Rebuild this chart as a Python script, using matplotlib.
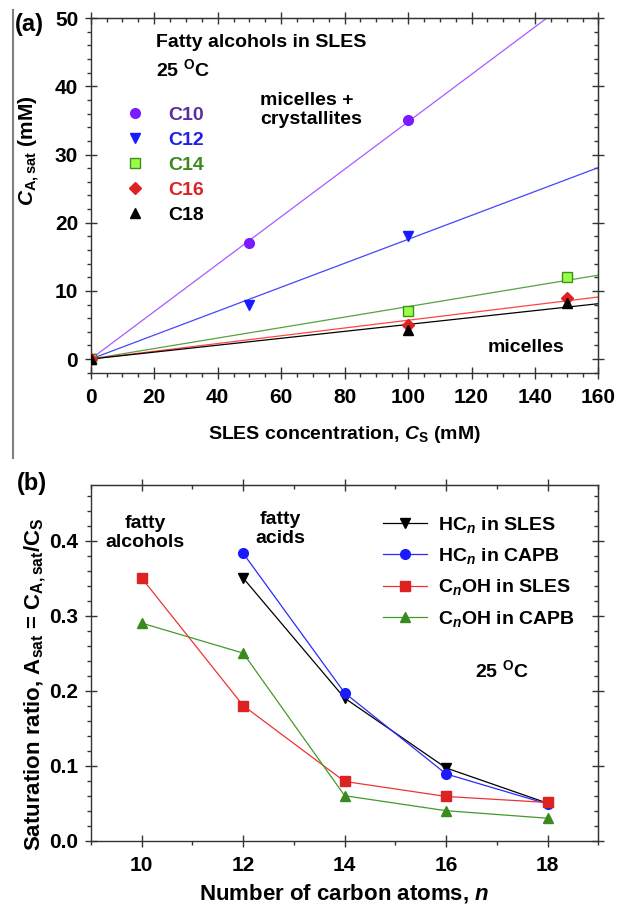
import numpy as np
import matplotlib
matplotlib.use('Agg')
import matplotlib.pyplot as plt
from matplotlib.ticker import MultipleLocator
from matplotlib.lines import Line2D

plt.rcParams['font.family'] = ['Liberation Sans', 'DejaVu Sans']
plt.rcParams['font.weight'] = 'bold'
plt.rcParams['axes.labelweight'] = 'bold'
plt.rcParams['mathtext.fontset'] = 'custom'
plt.rcParams['mathtext.rm'] = 'Liberation Sans:bold'
plt.rcParams['mathtext.it'] = 'Liberation Sans:bold:italic'
plt.rcParams['mathtext.bf'] = 'Liberation Sans:bold'

# (a) fatty alcohols in SLES, C_A,sat vs SLES concentration
c10_x = [0, 50, 100]
c10_y = [0, 17, 35]
c12_x = [0, 50, 100]
c12_y = [0, 7.9, 18]
c14_x = [0, 100, 150]
c14_y = [0, 7, 12]
c16_x = [0, 100, 150]
c16_y = [0, 5, 9]
c18_x = [0, 100, 150]
c18_y = [0, 4.2, 8.2]

# (b) saturation ratio vs number of carbon atoms
n_acid = [12, 14, 16, 18]
hc_sles = [0.35, 0.19, 0.097, 0.05]
hc_capb = [0.383, 0.197, 0.089, 0.049]
n_alc = [10, 12, 14, 16, 18]
oh_sles = [0.35, 0.18, 0.079, 0.059, 0.051]
oh_capb = [0.29, 0.25, 0.06, 0.04, 0.03]

FS = 14
TICK_FS = 15
SPINE = '#333333'


def style_axes(ax, xmaj, xmin, ymaj, ymin):
    for s in ax.spines.values():
        s.set_color(SPINE)
        s.set_linewidth(1.0)
    ax.xaxis.set_major_locator(MultipleLocator(xmaj))
    ax.xaxis.set_minor_locator(MultipleLocator(xmin))
    ax.yaxis.set_major_locator(MultipleLocator(ymaj))
    ax.yaxis.set_minor_locator(MultipleLocator(ymin))
    ax.tick_params(which='major', direction='inout', length=8, width=1,
                   color=SPINE, labelsize=TICK_FS, pad=5)
    ax.tick_params(axis='x', which='major', pad=7)
    ax.tick_params(which='minor', direction='out', length=3, width=1,
                   color=SPINE)
    # mirrored ticks on top and right, pointing inward
    top = ax.secondary_xaxis('top')
    right = ax.secondary_yaxis('right')
    top.xaxis.set_major_locator(MultipleLocator(xmaj))
    top.xaxis.set_minor_locator(MultipleLocator(xmin))
    right.yaxis.set_major_locator(MultipleLocator(ymaj))
    right.yaxis.set_minor_locator(MultipleLocator(ymin))
    for sec in (top, right):
        for s in sec.spines.values():
            s.set_color(SPINE)
        sec.tick_params(which='major', direction='inout', length=8, width=1,
                        color=SPINE)
        sec.tick_params(which='minor', direction='in', length=3, width=1,
                        color=SPINE)
    top.tick_params(labeltop=False)
    right.tick_params(labelright=False)


fig = plt.figure(figsize=(6.17, 9.09), dpi=100)

# ---------------- panel (a) ----------------
ax1 = fig.add_axes([0.147, 0.590, 0.823, 0.390])
series_a = [
    (c10_x, c10_y, 'o', '#7a1cff', '#7a1cff', '#a55cff', '#5b2d9e', 'C10'),
    (c12_x, c12_y, 'v', '#1a1aff', '#1a1aff', '#4545ff', '#2020e6', 'C12'),
    (c14_x, c14_y, 's', '#99ff44', '#3f8f1f', '#5aa040', '#3a8a20', 'C14'),
    (c16_x, c16_y, 'D', '#dd2222', '#dd2222', '#ff4444', '#dd2222', 'C16'),
    (c18_x, c18_y, '^', 'black', 'black', 'black', 'black', 'C18'),
]
xfit = np.array([0, 160])
handles = []
text_colors = []
for x, y, mk, fc, ec, lc, tc, lab in series_a:
    x = np.array(x, dtype=float)
    y = np.array(y, dtype=float)
    slope = np.sum(x * y) / np.sum(x * x)
    ax1.plot(xfit, slope * xfit, color=lc, lw=0.9, zorder=2)
    h, = ax1.plot(x, y, ls='none', marker=mk, ms=7 if mk != 'D' else 6,
                  mfc=fc, mec=ec, mew=1, zorder=3, label=lab)
    handles.append(h)
    text_colors.append(tc)

ax1.set_xlim(0, 160)
ax1.set_ylim(-2, 50)
style_axes(ax1, 20, 5, 10, 2)
ax1.set_xlabel('SLES concentration, $C_{\\mathrm{S}}$ (mM)', fontsize=FS,
               labelpad=12)
ax1.set_ylabel('$C_{\\mathrm{A,sat}}$ (mM)', fontsize=15)
ax1.yaxis.set_label_coords(-0.096, 0.625)

leg1 = ax1.legend(handles=handles, loc='upper left',
                  bbox_to_anchor=(0.068, 0.752), frameon=False, fontsize=FS,
                  handlelength=1.0, handletextpad=1.2, labelspacing=0.38,
                  borderpad=0, borderaxespad=0, labelcolor=text_colors)

ax1.text(0.129, 0.930, 'Fatty alcohols in SLES', transform=ax1.transAxes,
         fontsize=FS, va='center', ha='left')
ax1.text(0.129, 0.856, '25 $^{\\mathrm{O}}$C', transform=ax1.transAxes,
         fontsize=FS, va='center', ha='left')
ax1.text(0.333, 0.742, 'micelles +\ncrystallites', transform=ax1.transAxes,
         fontsize=FS, va='center', ha='left', linespacing=1.15)
ax1.text(0.932, 0.072, 'micelles', transform=ax1.transAxes,
         fontsize=FS, va='center', ha='right')

# ---------------- panel (b) ----------------
ax2 = fig.add_axes([0.1475, 0.0751, 0.8222, 0.3913])
ax2.plot(n_acid, hc_sles, color='black', lw=0.9, marker='v', ms=7,
         mfc='black', mec='black', label='HC$_{\\mathit{n}}$ in SLES', zorder=3)
ax2.plot(n_acid, hc_capb, color='#2a2aff', lw=0.9, marker='o', ms=7,
         mfc='#1a1aff', mec='#1a1aff', label='HC$_{\\mathit{n}}$ in CAPB',
         zorder=3)
ax2.plot(n_alc, oh_sles, color='#ee3333', lw=0.9, marker='s', ms=7,
         mfc='#dd2222', mec='#dd2222', label='C$_{\\mathit{n}}$OH in SLES',
         zorder=3)
ax2.plot(n_alc, oh_capb, color='#44992a', lw=0.9, marker='^', ms=7,
         mfc='#3a8a1f', mec='#3a8a1f', label='C$_{\\mathit{n}}$OH in CAPB',
         zorder=3)

ax2.set_xlim(9, 19)
ax2.set_ylim(0, 0.474)
style_axes(ax2, 2, 1, 0.1, 0.02)
ax2.yaxis.set_major_formatter(plt.FuncFormatter(lambda v, p: '%.1f' % v))
ax2.set_xlabel('Number of carbon atoms, $\\mathit{n}$', fontsize=16,
               labelpad=5)
ax2.set_ylabel('Saturation ratio, A$_{\\mathrm{sat}}$ = '
               'C$_{\\mathrm{A,sat}}$/C$_{\\mathrm{S}}$', fontsize=16)
ax2.yaxis.set_label_coords(-0.085, 0.44)

ax2.legend(loc='upper left', bbox_to_anchor=(0.576, 0.916), frameon=False,
           fontsize=FS, handlelength=2.27, handletextpad=0.57,
           labelspacing=0.58, borderpad=0, borderaxespad=0)

ax2.text(0.1065, 0.866, 'fatty\nalcohols', transform=ax2.transAxes,
         fontsize=FS, ha='center', va='center', linespacing=1.15)
ax2.text(0.373, 0.877, 'fatty\nacids', transform=ax2.transAxes,
         fontsize=FS, ha='center', va='center', linespacing=1.15)
ax2.text(0.757, 0.48, '25 $^{\\mathrm{O}}$C', transform=ax2.transAxes,
         fontsize=FS, ha='left', va='center')

# panel letters and the grey frame line on the left
fig.text(15 / 617, 1 - 24 / 909, '(a)', fontsize=17, va='center', ha='left')
fig.text(17 / 617, 1 - 484 / 909, '(b)', fontsize=17, va='center', ha='left')
fig.add_artist(Line2D([13 / 617, 13 / 617], [1 - 10 / 909, 1 - 458 / 909],
                      color='#808080', lw=1.5))

fig.savefig('out.png', dpi=100)
